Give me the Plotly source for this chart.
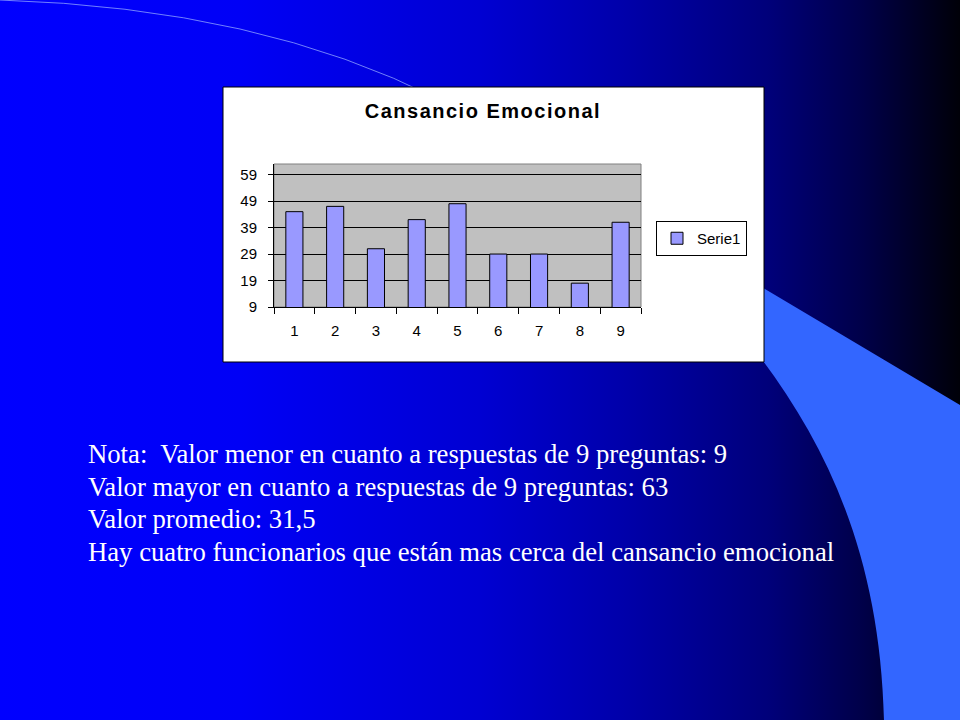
"""Cansancio Emocional - bar chart on a blue slide."""

import base64

import plotly.graph_objects as go

W, H = 960, 720

# --- data ---
preguntas = ["1", "2", "3", "4", "5", "6", "7", "8", "9"]
serie1 = [45, 47, 31, 42, 48, 29, 29, 18, 41]
y_ticks = [9, 19, 29, 39, 49, 59]
y_range = [9, 63]

titulo = "Cansancio Emocional"
nombre_serie = "Serie1"
notas = [
    "Nota:\u00a0 Valor menor en cuanto a respuestas de 9 preguntas: 9",
    "Valor mayor en cuanto a respuestas de 9 preguntas: 63",
    "Valor promedio: 31,5",
    "Hay cuatro funcionarios que están mas cerca del cansancio emocional",
]


def px(x):
    return x / W


def py(y):
    return 1 - y / H


def path(cmds):
    # cmds: list of (letter, [(x, y), ...]) in pixels -> paper path string
    out = []
    for letter, pts in cmds:
        coords = " ".join(f"{px(x):.4f},{py(y):.4f}" for x, y in pts)
        out.append(f"{letter}{coords}")
    return " ".join(out) + " Z"


# slide background: horizontal blue -> black gradient
svg = (
    '<svg xmlns="http://www.w3.org/2000/svg" width="960" height="720" '
    'viewBox="0 0 960 720" preserveAspectRatio="none">'
    '<defs><linearGradient id="g" x1="0" y1="0" x2="1" y2="0">'
    '<stop offset="0" stop-color="#0000ff"/>'
    '<stop offset="0.25" stop-color="#0000f6"/>'
    '<stop offset="0.5" stop-color="#0000d2"/>'
    '<stop offset="0.65" stop-color="#0000aa"/>'
    '<stop offset="0.8" stop-color="#00007a"/>'
    '<stop offset="0.9" stop-color="#000048"/>'
    '<stop offset="1" stop-color="#000008"/>'
    '</linearGradient></defs>'
    '<rect width="960" height="720" fill="url(#g)"/></svg>'
)
bg_src = "data:image/svg+xml;base64," + base64.b64encode(svg.encode()).decode()

fig = go.Figure()

fig.add_trace(go.Bar(
    x=preguntas, y=serie1, name=nombre_serie,
    marker=dict(color="#9999FF", line=dict(color="black", width=1)),
    showlegend=True,
))

# plot area in pixels: x 274..641, y 164..307
plot_x = [px(274), px(641)]
plot_y = [py(307), py(164)]

shapes = [
    # light-blue swoosh on the right
    dict(type="path", xref="paper", yref="paper", layer="below",
         path=path([("M", [(740, 274)]), ("L", [(960, 405)]), ("L", [(960, 720)]),
                    ("L", [(884, 720)]),
                    ("C", [(880, 560), (830, 450), (760, 357)]), ("L", [(740, 330)])]),
         fillcolor="#3366FF", line=dict(width=0)),
    # faint arc at the top
    dict(type="path", xref="paper", yref="paper", layer="below",
         path=f"M{px(0)},{py(0)} Q{px(260)},{py(8)} {px(440)},{py(100)}",
         line=dict(color="rgba(140,160,255,0.8)", width=1)),
    # chart box
    dict(type="rect", xref="paper", yref="paper", layer="below",
         x0=px(223), x1=px(764), y0=py(362), y1=py(87),
         fillcolor="white", line=dict(color="black", width=1)),
    # grey plot area
    dict(type="rect", xref="x domain", yref="y domain", layer="below",
         x0=0, x1=1, y0=0, y1=1,
         fillcolor="#C0C0C0", line=dict(color="#808080", width=1)),
]

annotations = [
    dict(text=f"<b>{titulo}</b>", xref="paper", yref="paper",
         x=px(483), y=py(111), xanchor="center", yanchor="middle",
         showarrow=False, font=dict(family="Liberation Sans", size=20, color="black")),
]
for i, linea in enumerate(notas):
    annotations.append(dict(
        text=linea, xref="paper", yref="paper",
        x=px(86), y=py(454 + i * 32.6), xanchor="left", yanchor="middle",
        showarrow=False, font=dict(family="Liberation Serif", size=26.7, color="white"),
    ))

fig.update_layout(
    width=W, height=H, autosize=False,
    margin=dict(l=0, r=0, t=0, b=0, pad=0, autoexpand=False),
    paper_bgcolor="#0000ff",
    plot_bgcolor="rgba(0,0,0,0)",
    images=[dict(source=bg_src, xref="paper", yref="paper", x=0, y=1,
                 sizex=1, sizey=1, sizing="stretch", layer="below")],
    shapes=shapes,
    annotations=annotations,
    bargap=0.58,
    showlegend=True,
    legend=dict(
        x=px(656), y=py(221), xanchor="left", yanchor="top",
        bgcolor="white", bordercolor="black", borderwidth=1,
        font=dict(family="Liberation Sans", size=15, color="black"),
        itemwidth=30,
    ),
    xaxis=dict(
        domain=plot_x, type="category", automargin=False,
        showline=True, linecolor="black", linewidth=1,
        ticks="outside", ticklen=6, tickcolor="black", tickson="boundaries",
        ticklabelstandoff=10,
        showgrid=False, zeroline=False,
        tickfont=dict(family="Liberation Sans", size=15, color="black"),
    ),
    yaxis=dict(
        domain=plot_y, range=y_range, tickvals=y_ticks, automargin=False,
        showline=True, linecolor="black", linewidth=1,
        ticks="outside", ticklen=5, tickcolor="black",
        ticklabelstandoff=8,
        showgrid=True, gridcolor="black", gridwidth=1, zeroline=False,
        tickfont=dict(family="Liberation Sans", size=15, color="black"),
    ),
)

# the page body has a default margin; drop it so the slide fills the window,
# and widen the title letters a little like the original Excel rendering
post = (
    "document.body.style.margin='0';"
    "document.body.style.overflow='hidden';"
    "var t=document.querySelector('.annotation-text');"
    "if(t){t.style.letterSpacing='1.5px';}"
)
fig.write_html("out.html", post_script=post, config={"displayModeBar": False})
